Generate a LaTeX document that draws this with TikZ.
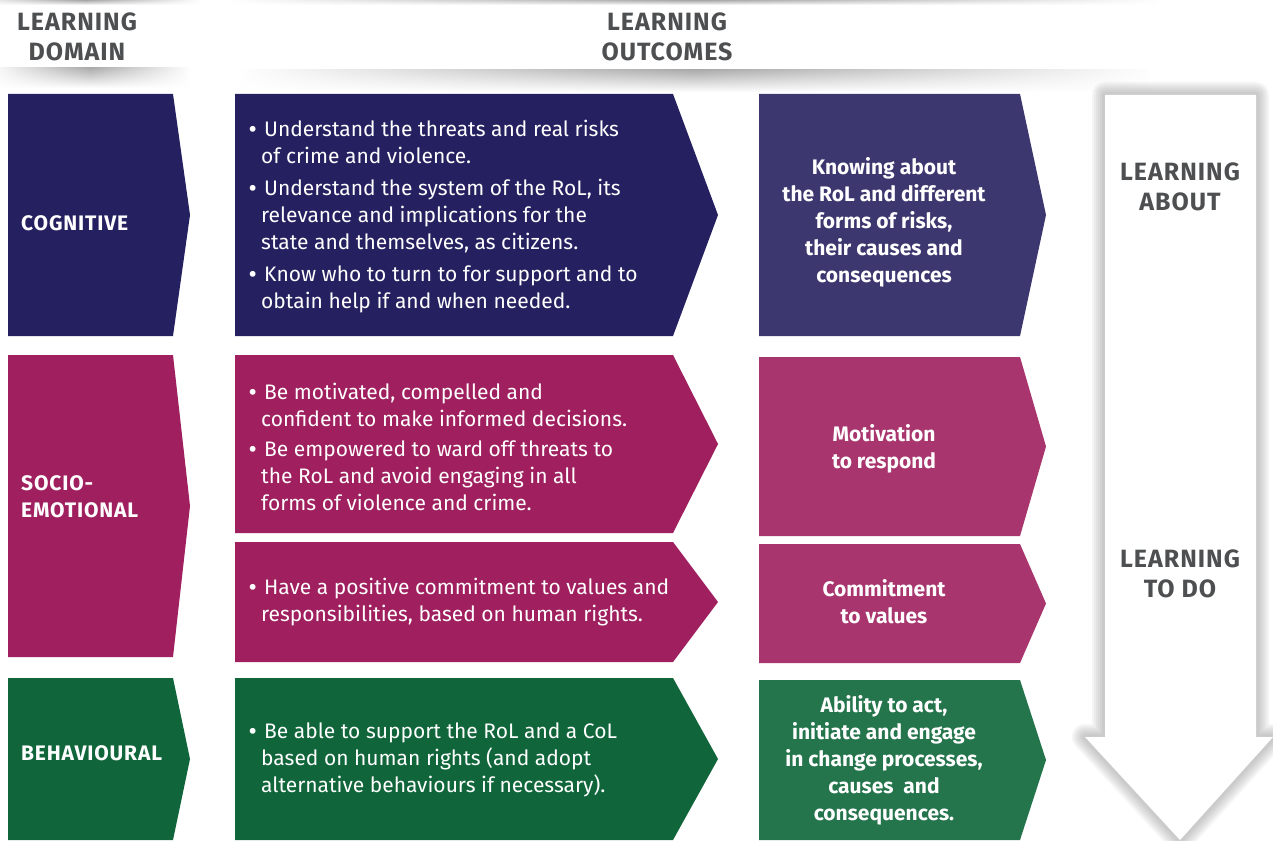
\documentclass[tikz,border=0pt]{standalone}
\usepackage{fontspec}
\setmainfont{Fira Sans}
\usetikzlibrary{fadings}
\definecolor{cogA}{HTML}{252060}
\definecolor{cogB}{HTML}{3C386F}
\definecolor{socA}{HTML}{9F1F5F}
\definecolor{socB}{HTML}{A8356D}
\definecolor{behA}{HTML}{10663A}
\definecolor{behB}{HTML}{24744C}
\definecolor{hdr}{HTML}{4D4F51}
\tikzfading[name=sidefade, left color=transparent!100, right color=transparent!100, middle color=transparent!0]
\newcommand\mychev[6]{%
  \fill[#6] (#1,#4) -- (#2,#4) -- (#3,{(#4+#5)/2}) -- (#2,#5) -- (#1,#5) -- cycle;}
\tikzset{
  hdrtxt/.style={text=hdr, font=\bfseries\fontsize{25}{30}\selectfont\addfontfeatures{LetterSpace=4}, align=center, inner sep=0pt},
  domtxt/.style={text=white, font=\bfseries\fontsize{21}{27}\selectfont\addfontfeatures{LetterSpace=4}, align=left, anchor=west, inner sep=0pt},
  bodytxt/.style={text=white, font=\fontsize{21}{27}\selectfont, align=left, anchor=west, inner sep=0pt},
  outtxt/.style={text=white, font=\bfseries\fontsize{21}{27}\selectfont, align=center, inner sep=0pt},
  shadowband/.style={top color=gray!65, bottom color=white, path fading=sidefade},
}
\newcommand\bul{\makebox[15pt][l]{\textbf{\textbullet}}}
\newcommand\cnt{\hspace*{12pt}}
\begin{document}
\begin{tikzpicture}[x=1pt,y=-1pt]
\useasboundingbox (0,0) rectangle (1273,840);
\fill[white] (0,0) rectangle (1273,840);
% header band shadows
\shade[top color=gray!70, bottom color=white, path fading=sidefade] (-30,0) rectangle (200,5);
\shade[top color=gray!70, bottom color=white, path fading=sidefade] (230,0) rectangle (1160,5);
\shade[shadowband] (-10,68) rectangle (190,88);
\shade[shadowband] (240,70) rectangle (1150,92);
\node[hdrtxt] (hdom) at (77,37) {LEARNING\\DOMAIN};
\node[hdrtxt] (hout) at (667,37) {LEARNING\\OUTCOMES};
% big white arrow with soft shadow
\foreach \w in {26,22,18,14,10,6}{
  \draw[gray, opacity=0.08, line width=\w pt, line join=round]
    (1105,95) -- (1256,95) -- (1256,737) -- (1273,737) -- (1180,840) -- (1085,737) -- (1105,737) -- cycle;}
\fill[white] (1105,95) -- (1256,95) -- (1256,737) -- (1273,737) -- (1180,840) -- (1085,737) -- (1105,737) -- cycle;
\node[hdrtxt] (labout) at (1180,187) {LEARNING\\ABOUT};
\node[hdrtxt] (ltodo) at (1180,574) {LEARNING\\TO DO};
% domain column
\mychev{8}{173}{190}{94}{336}{cogA}
\mychev{8}{173}{190}{355}{657}{socA}
\mychev{8}{173}{190}{678}{840}{behA}
\node[domtxt] (dcog) at (21,223) {COGNITIVE};
\node[domtxt] (dsoc) at (21,497) {SOCIO-\\EMOTIONAL};
\node[domtxt] (dbeh) at (21,753) {BEHAVIOURAL};
% outcomes column
\mychev{235}{673}{718}{94}{336}{cogA}
\mychev{235}{673}{718}{355}{533}{socA}
\mychev{235}{673}{718}{542}{662}{socA}
\mychev{235}{673}{718}{678}{840}{behA}
\node[bodytxt] (bcog) at (249,217) {\bul Understand the threats and real risks\\\cnt of crime and violence.\\[5pt]
\bul Understand the system of the RoL, its\\\cnt relevance and implications for the\\\cnt state and themselves, as citizens.\\[5pt]
\bul Know who to turn to for support and to\\\cnt obtain help if and when needed.};
\node[bodytxt] (bsoc1) at (249,447) {\bul Be motivated, compelled and\\\cnt confident to make informed decisions.\\[3pt]
\bul Be empowered to ward off threats to\\\cnt the RoL and avoid engaging in all\\\cnt forms of violence and crime.};
\node[bodytxt] (bsoc2) at (249,602) {\bul Have a positive commitment to values and\\\cnt responsibilities, based on human rights.};
\node[bodytxt] (bbeh) at (249,760) {\bul Be able to support the RoL and a CoL\\\cnt based on human rights (and adopt\\\cnt alternative behaviours if necessary).};
% results column
\mychev{759}{1020}{1046}{94}{336}{cogB}
\mychev{759}{1020}{1046}{357}{536}{socB}
\mychev{759}{1020}{1046}{544}{663}{socB}
\mychev{759}{1020}{1046}{680}{840}{behB}
\node[outtxt] (ocog) at (884,222) {Knowing about\\the RoL and different\\forms of risks,\\their causes and\\consequences};
\node[outtxt] (osoc1) at (884,449) {Motivation\\to respond};
\node[outtxt] (osoc2) at (884,602) {Commitment\\to values};
\node[outtxt] (obeh) at (884,760) {Ability to act,\\initiate and engage\\in change processes,\\causes\ \ and\\consequences.};
\end{tikzpicture}
\end{document}
